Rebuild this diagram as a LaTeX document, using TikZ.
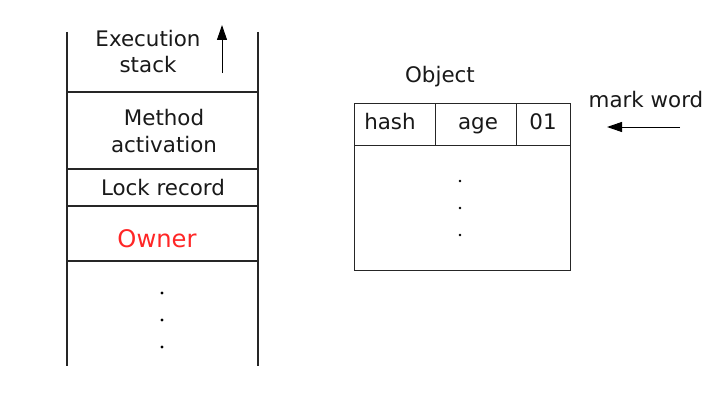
\documentclass[tikz,border=0pt]{standalone}
\usepackage{fontspec}
\setmainfont{DejaVu Sans}
\usetikzlibrary{arrows.meta}
\begin{document}
\begin{tikzpicture}[x=1pt,y=-1pt,
  rule/.style={line width=1.1pt,draw=black!85},
  frame/.style={line width=0.9pt,draw=black!85},
  lbl/.style={font=\fontsize{21.4}{25}\selectfont,inner sep=0pt,anchor=base,text=black!90},
  dot/.style={circle,fill=black,inner sep=0pt,minimum size=3.4pt},
  pointer/.style={line width=1pt,-{Triangle[length=15pt,width=10pt]}}]
\useasboundingbox[fill=white] (0,0) rectangle (725,404);
% execution stack
\coordinate (sTL) at (67,32);
\coordinate (sBL) at (67,366);
\coordinate (sTR) at (258,32);
\coordinate (sBR) at (258,366);
\draw[rule] (sTL) -- (sBL);
\draw[rule] (sTR) -- (sBR);
\foreach \yy/\nm in {92/a,169/b,206/c,261/d}{
  \coordinate (L\nm) at (67,\yy);
  \coordinate (R\nm) at (258,\yy);
  \draw[rule] (L\nm) -- (R\nm);
}
\node[lbl] (exec1) at (148,47) {Execution};
\node[lbl] (exec2) at (148,73) {stack};
\coordinate (upB) at (222,73);
\coordinate (upT) at (222,25);
\draw[pointer] (upB) -- (upT);
\node[lbl] (meth1) at (164,125) {Method};
\node[lbl] (meth2) at (164,152) {activation};
\node[lbl] (lock) at (163,195) {Lock record};
\node[lbl,font=\fontsize{24.2}{28}\selectfont,text=red!85!white] (owner) at (157,247) {Owner};
\node[dot] (sd1) at (162,293) {};
\node[dot] (sd2) at (162,320) {};
\node[dot] (sd3) at (162,347) {};
% object layout
\node[lbl] (objt) at (440,82) {Object};
\coordinate (oTL) at (354,103);
\coordinate (oBR) at (570,270);
\draw[frame] (oTL) rectangle (oBR);
\coordinate (hL) at (354,145);
\coordinate (hR) at (570,145);
\draw[frame] (hL) -- (hR);
\coordinate (d1T) at (435,103);
\coordinate (d1B) at (435,145);
\coordinate (d2T) at (516,103);
\coordinate (d2B) at (516,145);
\draw[frame] (d1T) -- (d1B) (d2T) -- (d2B);
\node[lbl] (hash) at (390,129) {hash};
\node[lbl] (age) at (478,129) {age};
\node[lbl] (flag) at (543,129) {01};
\node[dot,minimum size=2.8pt] (od1) at (460,181) {};
\node[dot,minimum size=2.8pt] (od2) at (460,208) {};
\node[dot,minimum size=2.8pt] (od3) at (460,235) {};
\node[lbl] (mw) at (646,107) {mark word};
\coordinate (mwS) at (680,127);
\coordinate (mwE) at (607,127);
\draw[pointer] (mwS) -- (mwE);
\end{tikzpicture}
\end{document}
